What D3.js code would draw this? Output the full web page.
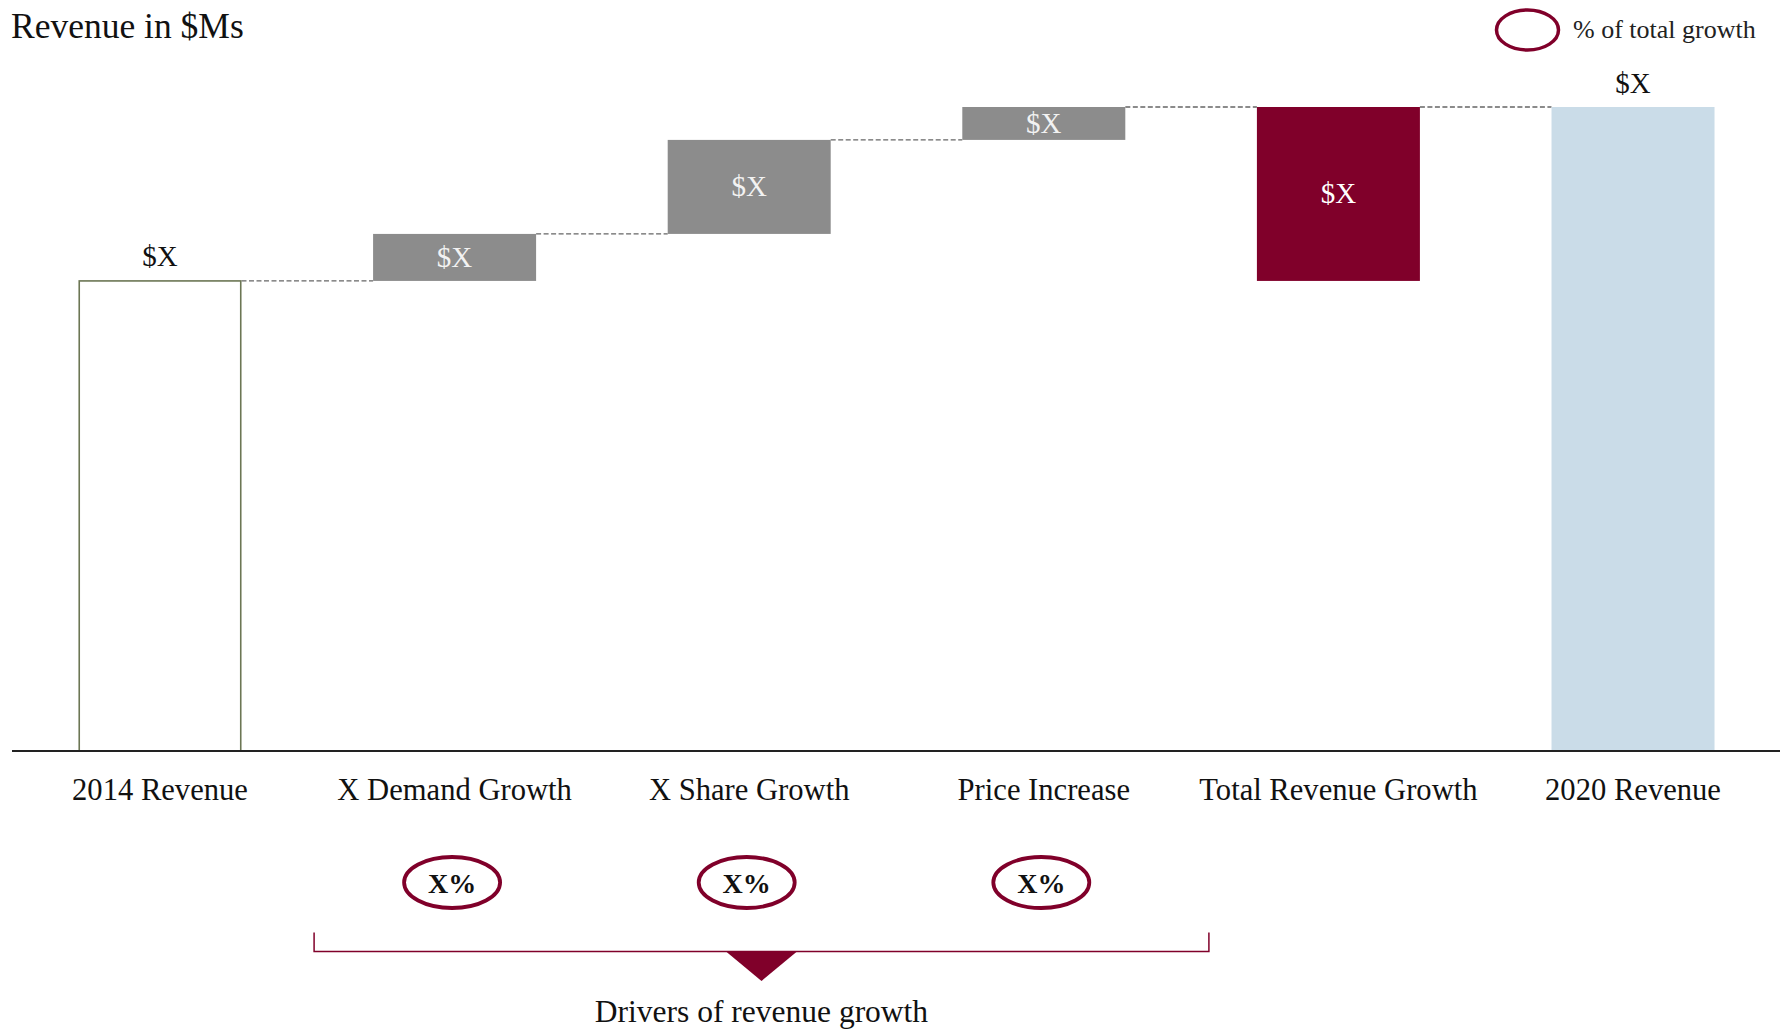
<!DOCTYPE html>
<html>
<head>
<meta charset="utf-8">
<script src="https://cdn.jsdelivr.net/npm/d3@7"></script>
<style>
  html, body { margin: 0; padding: 0; background: #fff; }
  svg { display: block; }
  text { font-family: "Liberation Serif", "Times New Roman", serif; }
</style>
</head>
<body>
<svg id="chart" width="1785" height="1031"></svg>
<script>
// ---- Data ----
const categories = ["2014 Revenue", "X Demand Growth", "X Share Growth", "Price Increase", "Total Revenue Growth", "2020 Revenue"];
const barKinds   = ["start", "delta", "delta", "delta", "growth", "end"];
const startValue = 100;          // 2014 revenue (relative units)
const deltas     = [10, 20, 7];  // demand, share, price
const valueLabels = ["$X", "$X", "$X", "$X", "$X", "$X"];
const driverCategories = ["X Demand Growth", "X Share Growth", "Price Increase"];
const driverShares = ["X%", "X%", "X%"];
const titleText = "Revenue in $Ms";
const legendText = "% of total growth";
const bracketText = "Drivers of revenue growth";

// ---- Derived bars ----
const totalGrowth = d3.sum(deltas);
const endValue = startValue + totalGrowth;
const bars = [];
bars.push({cat: categories[0], kind: barKinds[0], y0: 0, y1: startValue, label: valueLabels[0]});
let run = startValue;
deltas.forEach((d, i) => {
  bars.push({cat: categories[i + 1], kind: barKinds[i + 1], y0: run, y1: run + d, label: valueLabels[i + 1]});
  run += d;
});
bars.push({cat: categories[4], kind: barKinds[4], y0: startValue, y1: endValue, label: valueLabels[4]});
bars.push({cat: categories[5], kind: barKinds[5], y0: 0, y1: endValue, label: valueLabels[5]});

// ---- Scales ----
const svg = d3.select("#chart");
const baseY = 751;
const x = d3.scaleBand().domain(categories).range([12.7, 1780.3]).paddingInner(0.4467).paddingOuter(0.2233);
const y = d3.scaleLinear().domain([0, endValue]).range([baseY, 107]);
const bw = x.bandwidth();

const colors = { start: "#ffffff", delta: "#8c8c8c", growth: "#80002a", end: "#cadce8" };
const maroon = "#80002a";

// ---- Title ----
svg.append("text").attr("x", 11).attr("y", 38).attr("font-size", 35.5).attr("fill", "#111").text(titleText);

// ---- Legend ----
svg.append("ellipse").attr("cx", 1527.5).attr("cy", 30).attr("rx", 31).attr("ry", 20)
  .attr("fill", "none").attr("stroke", maroon).attr("stroke-width", 3.5);
svg.append("text").attr("x", 1573).attr("y", 38).attr("font-size", 26).attr("fill", "#222").text(legendText);

// ---- Connectors ----
for (let i = 0; i < bars.length - 1; i++) {
  const b = bars[i];
  const level = b.y1;
  svg.append("line")
    .attr("x1", x(b.cat) + bw).attr("x2", x(bars[i + 1].cat))
    .attr("y1", y(level)).attr("y2", y(level))
    .attr("stroke", "#666").attr("stroke-width", 1.3).attr("stroke-dasharray", "5,2.5");
}

// ---- Bars ----
svg.selectAll("rect.bar").data(bars).join("rect")
  .attr("class", "bar")
  .attr("x", d => x(d.cat) + (d.kind === "start" ? 0.75 : 0))
  .attr("width", d => bw - (d.kind === "start" ? 1.5 : 0))
  .attr("y", d => y(d.y1))
  .attr("height", d => y(d.y0) - y(d.y1))
  .attr("fill", d => colors[d.kind])
  .attr("stroke", d => d.kind === "start" ? "#6c7654" : "none")
  .attr("stroke-width", 1.6);

// ---- Value labels ----
svg.selectAll("text.val").data(bars).join("text")
  .attr("class", "val")
  .attr("x", d => x(d.cat) + bw / 2)
  .attr("y", d => {
    if (d.kind === "start" || d.kind === "end") return y(d.y1) - 14.5;
    return (y(d.y0) + y(d.y1)) / 2 + 9.5;
  })
  .attr("text-anchor", "middle")
  .attr("font-size", 29)
  .attr("fill", d => d.kind === "delta" ? "#f2f2f2" : (d.kind === "growth" ? "#ffffff" : "#111"))
  .text(d => d.label);

// ---- Axis ----
const axis = d3.axisBottom(x).tickSize(0).tickPadding(0);
const axisG = svg.append("g").attr("transform", `translate(0,${baseY})`).call(axis);
axisG.select(".domain").attr("stroke", "#222").attr("stroke-width", 2).attr("d", "M12,0H1780");
axisG.selectAll(".tick text")
  .attr("y", 49).attr("dy", null)
  .attr("font-size", 30.6).attr("fill", "#111")
  .attr("font-family", "\"Liberation Serif\", \"Times New Roman\", serif");

// ---- Driver share ellipses ----
const dg = svg.selectAll("g.driver").data(driverCategories).join("g")
  .attr("class", "driver")
  .attr("transform", d => `translate(${x(d) + bw / 2 - 2.5},882.5)`);
dg.append("ellipse").attr("rx", 48).attr("ry", 25.5)
  .attr("fill", "none").attr("stroke", maroon).attr("stroke-width", 3.8);
dg.append("text").attr("text-anchor", "middle").attr("y", 10)
  .attr("font-size", 28).attr("font-weight", "bold").attr("fill", "#111")
  .text((d, i) => driverShares[i]);

// ---- Bracket ----
const bl = x(driverCategories[0]) - 59;
const br = x(categories[4]) - 48;
const by = 951.5, bt = 932.5;
svg.append("path")
  .attr("d", `M${bl},${bt}V${by}H${br}V${bt}`)
  .attr("fill", "none").attr("stroke", maroon).attr("stroke-width", 1.5);
const bm = (bl + br) / 2;
svg.append("path")
  .attr("d", `M${bm - 35.5},${by}L${bm + 35.5},${by}L${bm},${981}Z`)
  .attr("fill", maroon);
svg.append("text").attr("x", bm).attr("y", 1021.5).attr("text-anchor", "middle")
  .attr("font-size", 31.5).attr("fill", "#111").text(bracketText);
</script>
</body>
</html>
